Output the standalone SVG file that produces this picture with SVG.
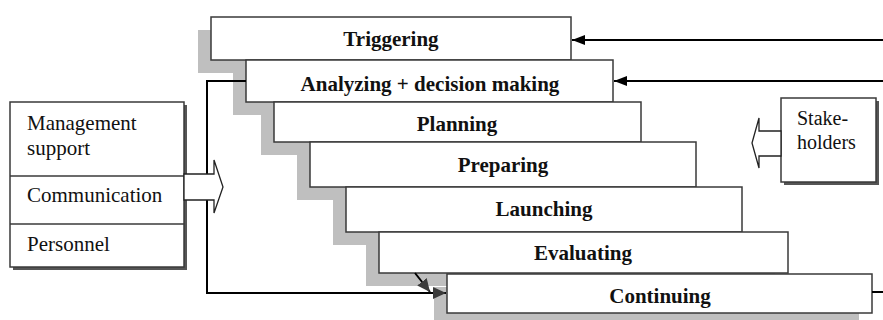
<svg xmlns="http://www.w3.org/2000/svg" width="883" height="320" viewBox="0 0 883 320">
<defs>
<style>
.sh{fill:#bfbfbf;stroke:none}
.bx{fill:#fff;stroke:#3a3a3a;stroke-width:1.5}
.lb{font-weight:bold;font-size:21px;fill:#111;text-anchor:middle}
.rg{font-size:21px;fill:#111}
.sk{font-size:20px;fill:#111}
.ln{fill:none;stroke:#000;stroke-width:2}
.hollow{fill:#fff;stroke:#222;stroke-width:1.3}
.dsh{fill:#555}
</style>
<marker id="ah" markerUnits="userSpaceOnUse" markerWidth="14" markerHeight="10" refX="13" refY="5" orient="auto">
<path d="M0,0 L13,5 L0,10 z" fill="#000"/>
</marker>
<marker id="ag" markerUnits="userSpaceOnUse" markerWidth="14" markerHeight="12" refX="13" refY="6" orient="auto">
<path d="M0,0 L13,6 L0,12 z" fill="#3a3a3a"/>
</marker>
</defs>
<rect width="883" height="320" fill="#fff"/>
<g font-family="'Liberation Serif', Tinos, 'Times New Roman', Times, 'Nimbus Roman', 'DejaVu Serif', serif">
<g id="triggering">
<rect class="sh" x="198" y="30" width="360" height="43"/>
<rect class="bx" x="211" y="17" width="360" height="43"/>
<text class="lb" x="391" y="46">Triggering</text>
</g>
<g id="analyzing">
<rect class="sh" x="233" y="73" width="367" height="42"/>
<rect class="bx" x="246" y="60" width="367" height="42"/>
<text class="lb" x="430" y="91">Analyzing + decision making</text>
</g>
<g id="planning">
<rect class="sh" x="261" y="115" width="367" height="40"/>
<rect class="bx" x="274" y="102" width="367" height="40"/>
<text class="lb" x="457" y="131">Planning</text>
</g>
<g id="preparing">
<rect class="sh" x="297" y="155" width="386" height="45"/>
<rect class="bx" x="310" y="142" width="386" height="45"/>
<text class="lb" x="503" y="172">Preparing</text>
</g>
<g id="launching">
<rect class="sh" x="333" y="200" width="396" height="45"/>
<rect class="bx" x="346" y="187" width="396" height="45"/>
<text class="lb" x="544" y="216">Launching</text>
</g>
<g id="evaluating">
<rect class="sh" x="366" y="245" width="409" height="41"/>
<rect class="bx" x="379" y="232" width="409" height="41"/>
<text class="lb" x="583" y="260">Evaluating</text>
</g>
<g id="continuing">
<rect class="sh" x="434" y="287" width="425" height="40"/>
<rect class="bx" x="447" y="274" width="425" height="39"/>
<text class="lb" x="660" y="303">Continuing</text>
</g>

<g id="connectors">
<line class="ln" x1="883" y1="40" x2="572" y2="40" marker-end="url(#ah)"/>
<line class="ln" x1="883" y1="81" x2="614" y2="81" marker-end="url(#ah)"/>
<polyline class="ln" points="246,81 207,81 207,293 446,293" marker-end="url(#ag)"/>
<line class="ln" x1="415" y1="273" x2="430" y2="292" stroke="#3a3a3a" marker-end="url(#ag)"/>
<line class="ln" x1="872" y1="292" x2="883" y2="292"/>
</g>

<g id="support-panel">
<rect class="dsh" x="13" y="105" width="174" height="165"/>
<rect class="bx" x="10" y="102" width="174" height="165"/>
<line x1="10" y1="176" x2="184" y2="176" stroke="#3a3a3a" stroke-width="1.5"/>
<line x1="10" y1="224" x2="184" y2="224" stroke="#3a3a3a" stroke-width="1.5"/>
<text class="rg" x="27" y="130">Management</text>
<text class="rg" x="27" y="155">support</text>
<text class="rg" x="27" y="202">Communication</text>
<text class="rg" x="27" y="251">Personnel</text>
</g>
<g id="support-arrow">
<polygon class="hollow" points="184,174 214,174 214,160 223,187 214,213 214,200 184,200"/>
</g>

<g id="stakeholders">
<rect class="dsh" x="784" y="101" width="95" height="84"/>
<rect class="bx" x="781" y="98" width="95" height="84"/>
<text class="sk" x="797" y="125">Stake-</text>
<text class="sk" x="797" y="149">holders</text>
</g>
<g id="stakeholders-arrow">
<polygon class="hollow" points="781,131 759,131 759,118 752,143 759,168 759,156 781,156"/>
</g>
</g>
</svg>
